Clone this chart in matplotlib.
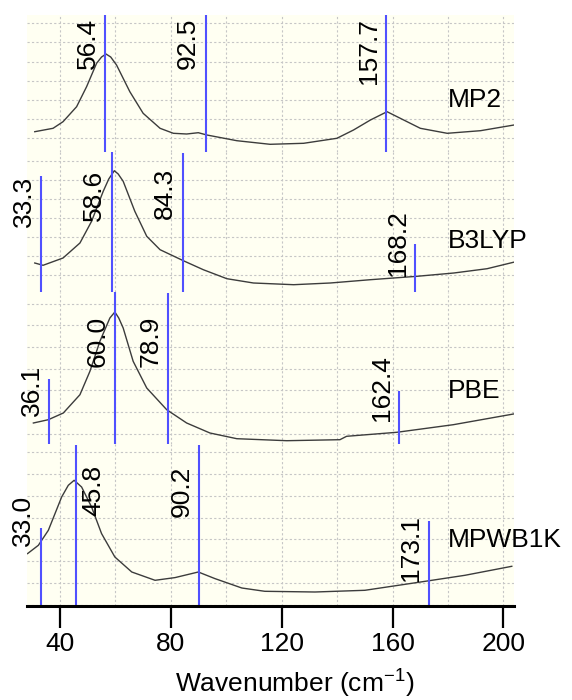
import matplotlib.pyplot as plt
import numpy as np

plt.rcParams['font.family'] = ['Liberation Sans', 'DejaVu Sans']
plt.rcParams['mathtext.fontset'] = 'custom'
plt.rcParams['mathtext.rm'] = 'Liberation Sans'

# ---- data ----
methods = ["MP2", "B3LYP", "PBE", "MPWB1K"]

# simulated spectra (wavenumber, intensity in arbitrary units)
mp2_x = [30.9, 37.5, 41.1, 46.0, 49.6, 53.2, 55.0, 56.6, 58.3, 60.4, 65.2, 70.0, 76.1,
         80.9, 85.7, 89.9, 93.0, 103.8, 115.8, 127.9, 139.9, 145.9, 152.0, 158.0,
         164.0, 170.0, 179.7, 191.7, 203.8]
mp2_y = [20.3, 23.7, 30.3, 45.3, 65.3, 88.7, 95.0, 98.0, 95.0, 87.0, 60.3, 38.7, 23.7,
         18.7, 18.0, 19.3, 17.0, 11.3, 7.7, 8.7, 13.7, 22.0, 32.0, 40.3,
         32.0, 23.7, 18.7, 21.3, 27.0]

b3lyp_x = [30.9, 33.9, 41.1, 47.2, 51.4, 55.6, 57.6, 59.6, 61.0, 62.8, 67.0, 71.3, 76.1,
           84.5, 91.7, 100.2, 109.8, 124.3, 137.5, 152.0, 168.8, 182.1, 194.1, 204.0]
b3lyp_y = [29.0, 26.7, 34.0, 49.0, 70.7, 100.7, 113.0, 121.3, 118.0, 110.7, 80.7, 55.7, 42.3,
           31.3, 22.3, 13.3, 9.0, 7.3, 9.0, 12.3, 15.7, 19.0, 23.3, 30.0]

pbe_x = [30.4, 35.8, 41.2, 47.2, 50.8, 54.4, 58.0, 59.8, 61.2, 62.8, 66.4, 71.3, 78.5,
         85.7, 94.1, 103.8, 121.8, 141.0, 143.4, 161.5, 181.9, 203.6]
pbe_y = [21.0, 24.3, 31.0, 49.3, 72.7, 102.7, 126.0, 132.0, 126.0, 116.0, 82.7, 56.0, 34.3,
         21.0, 11.0, 5.3, 3.3, 4.3, 7.7, 11.7, 19.3, 30.0]

mpw_x = [28.3, 32.2, 35.8, 40.6, 43.0, 45.1, 47.8, 51.4, 55.0, 59.8, 65.9, 74.3, 81.5,
         89.9, 95.9, 105.6, 113.9, 132.0, 150.0, 162.1, 172.5, 186.1, 203.0]
mpw_y = [52.4, 60.7, 75.7, 109.0, 120.7, 125.7, 119.0, 99.0, 72.4, 49.0, 34.0, 25.7, 28.4,
         34.0, 27.4, 18.0, 14.7, 14.0, 15.7, 20.7, 25.0, 30.7, 39.7]

# computed frequencies (sticks) and their heights
mp2_freq = [56.4, 92.5, 157.7]
mp2_int = [137, 137, 137]
b3lyp_freq = [33.3, 58.6, 84.3, 168.2]
b3lyp_int = [115.7, 140, 139, 48]
pbe_freq = [36.1, 60.0, 78.9, 162.4]
pbe_int = [65.3, 152, 151, 53.3]
mpw_freq = [33.0, 45.8, 90.2, 173.1]
mpw_int = [78.4, 161, 161, 84.7]

x_ticks = [40, 80, 120, 160, 200]

# ---- layout ----
PANEL_H = [137, 140, 152, 162]          # panel heights (px)
LABEL_TOP = [[134, 134, 134], [116, 122, 124, 82], [79, 128, 128, 89], [110.7, 140.7, 140.7, 90.7]]
LABEL_RIGHT = [[False] * 3, [False] * 4, [False] * 4, [False, True, False, False]]
NAME_Y = [52, 51, 53, 66]
GRID_Y = [(13.7, 19.2), (16.7, 19.0), (10.3, 21.7), (1.2, 21.8)]
FS = 19

spectra = [(mp2_x, mp2_y), (b3lyp_x, b3lyp_y), (pbe_x, pbe_y), (mpw_x, mpw_y)]
sticks = [(mp2_freq, mp2_int), (b3lyp_freq, b3lyp_int), (pbe_freq, pbe_int), (mpw_freq, mpw_int)]

fig = plt.figure(figsize=(5.72, 7.0), dpi=100)
gs = fig.add_gridspec(4, 1, left=27 / 572, right=514 / 572, top=685 / 700, bottom=94 / 700,
                      height_ratios=PANEL_H, hspace=0)

axes = []
for i, name in enumerate(methods):
    ax = fig.add_subplot(gs[i])
    axes.append(ax)
    ax.set_facecolor('#fffff2')
    ax.set_xlim(28.1, 203.8)
    ax.set_ylim(0, PANEL_H[i])

    g0, gstep = GRID_Y[i]
    ax.set_yticks(np.arange(g0, PANEL_H[i], gstep))
    ax.set_xticks(np.arange(40, 201, 20), minor=True)
    ax.set_xticks(x_ticks)
    ax.grid(True, which='both', color='#c6c6c6', lw=0.8, ls=(0, (2, 2)))
    ax.set_axisbelow(True)

    sx, sy = spectra[i]
    ax.plot(sx, sy, color='#3c3c3c', lw=1.0)

    fr, it = sticks[i]
    ax.vlines(fr, 0, it, color='#5050ff', lw=1.5)

    for f, top, right in zip(fr, LABEL_TOP[i], LABEL_RIGHT[i]):
        ax.annotate(f"{f:.1f}", xy=(f, top), xytext=(4 if right else -4, 0),
                    textcoords='offset points', rotation=90,
                    ha='left' if right else 'right', va='top', fontsize=FS)

    ax.text(180, NAME_Y[i], name, fontsize=FS, ha='left', va='center')

    for s in ax.spines.values():
        s.set_visible(False)
    ax.tick_params(which='both', length=0, labelleft=False, labelbottom=False)

ax = axes[-1]
ax.spines['bottom'].set_visible(True)
ax.spines['bottom'].set_linewidth(2.2)
ax.spines['bottom'].set_color('black')
ax.tick_params(axis='x', which='major', length=16, width=1.6, direction='out',
               labelbottom=True, labelsize=FS, pad=3)
ax.set_xlabel(r'Wavenumber (cm$^{\mathregular{-1}}$)', fontsize=FS, labelpad=7, x=0.55)

fig.savefig('out.png', dpi=100)
